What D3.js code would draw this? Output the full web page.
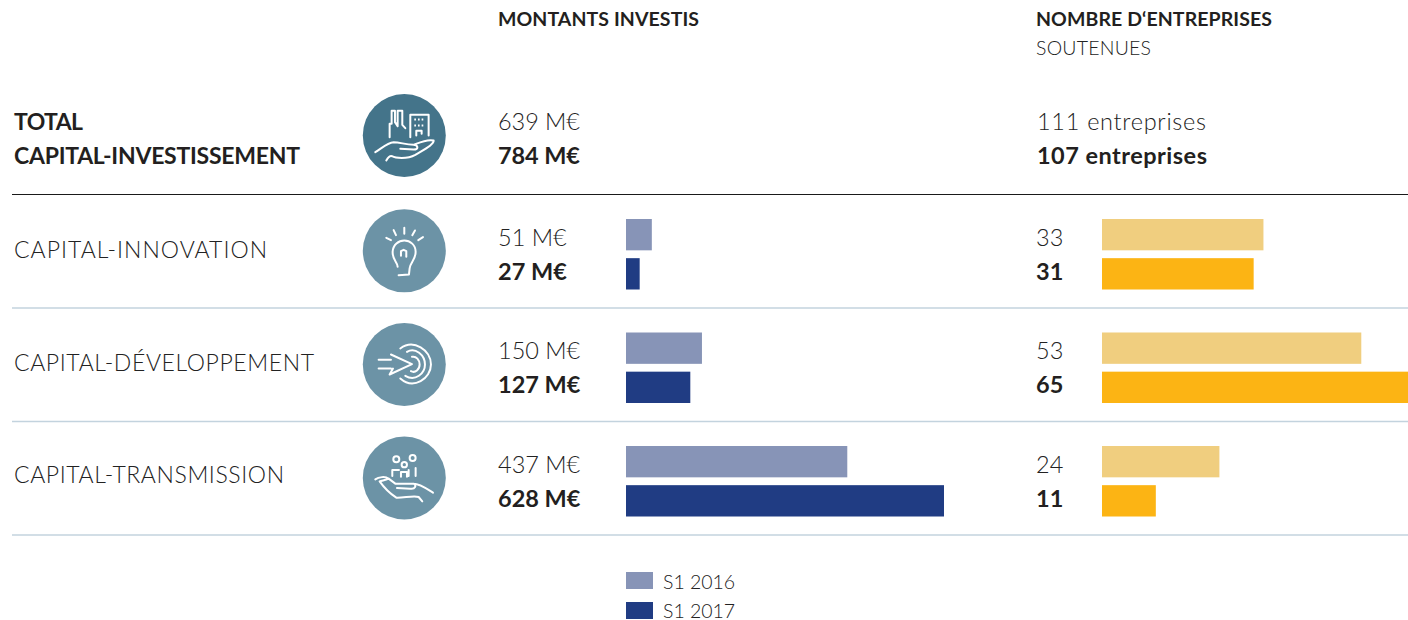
<!DOCTYPE html>
<html>
<head>
<meta charset="utf-8">
<script src="https://cdnjs.cloudflare.com/ajax/libs/d3/7.8.5/d3.min.js"></script>
<style>
  html, body { margin: 0; padding: 0; background: #fff; overflow: hidden; }
  text { font-family: "Lato", sans-serif; fill: #222; font-weight: 300; }
  .bold { font-weight: 700; fill: #231f20; }
  .icon path { fill: none; stroke: #fff; stroke-width: 6; stroke-linecap: round; stroke-linejoin: round; }
  .icon circle { fill: none; stroke: #fff; stroke-width: 6; }
</style>
</head>
<body>
<div id="chart"></div>
<script>
var categories = ["CAPITAL-INNOVATION", "CAPITAL-DÉVELOPPEMENT", "CAPITAL-TRANSMISSION"];
var seriesNames = ["S1 2016", "S1 2017"];
var montants2016 = [51, 150, 437];
var montants2017 = [27, 127, 628];
var entreprises2016 = [33, 53, 24];
var entreprises2017 = [31, 65, 11];
var totalMontants = [639, 784];
var totalEntreprises = [111, 107];

var width = 1408, height = 620;

var svg = d3.select("#chart")
    .append("svg")
    .attr("width", width)
    .attr("height", height)
    .style("display", "block");

// rows of the table, one band per category
var rowY = d3.scaleBand()
    .domain(categories)
    .range([194.5, 535]);

var seriesY = d3.scaleBand()
    .domain(seriesNames)
    .range([24.5, 95])
    .paddingInner(0.2)
    .paddingOuter(0);

var xMontants = d3.scaleLinear().domain([0, 628]).range([626, 944]);
var xEntreprises = d3.scaleLinear().domain([0, 65]).range([1102, 1420]);

var lightBlue = "#8794b7", darkBlue = "#203c83";
var lightYellow = "#f0ce7f", darkYellow = "#fcb414";

// the original font is wider than Lato, so long labels get stretched to their width
function label(x, y, size, txt, bold, len) {
    var t = svg.append("text")
        .attr("x", x)
        .attr("y", y)
        .attr("font-size", size)
        .attr("class", bold ? "bold" : null)
        .text(txt);
    if (len) t.attr("textLength", len);
    return t;
}

// headers
label(498, 26, 19.5, "MONTANTS INVESTIS", true, 201);
label(1036, 26, 19.5, "NOMBRE D‘ENTREPRISES", true, 236);
label(1036, 55, 19.5, "SOUTENUES", false, 115);

// total row
label(14, 130, 23, "TOTAL", true, 69);
label(14, 164, 23, "CAPITAL-INVESTISSEMENT", true, 286);
label(498, 130, 23.5, totalMontants[0] + " M€", false, 82);
label(498, 164, 23.5, totalMontants[1] + " M€", true, 82);
label(1037, 130, 23.5, totalEntreprises[0] + " entreprises", false, 169);
label(1037, 164, 23.5, totalEntreprises[1] + " entreprises", true, 170);

// separators
svg.append("line")
    .attr("x1", 12).attr("x2", 1408)
    .attr("y1", 194.5).attr("y2", 194.5)
    .attr("stroke", "#1a1a1a")
    .attr("stroke-width", 1.2);

var labelWidths = [253, 300, 270];

categories.forEach(function(c, i) {
    var top = rowY(c);
    // text baselines in the reference sit a little off the even row step
    var shift = i == 1 ? -1 : 0;
    label(14, top + 63.5 - i, 23, c, false, labelWidths[i]);

    label(498, top + 51.5 + shift, 23.5, montants2016[i] + " M€", false);
    label(498, top + 85.5 + shift, 23.5, montants2017[i] + " M€", true);
    label(1036, top + 51.5 + shift, 23.5, entreprises2016[i], false);
    label(1036, top + 85.5 + shift, 23.5, entreprises2017[i], true);

    var rows = svg.append("g").attr("transform", "translate(0," + top + ")");

    rows.append("rect")
        .attr("x", xMontants(0))
        .attr("y", seriesY(seriesNames[0]))
        .attr("width", xMontants(montants2016[i]) - xMontants(0))
        .attr("height", seriesY.bandwidth())
        .attr("fill", lightBlue);
    rows.append("rect")
        .attr("x", xMontants(0))
        .attr("y", seriesY(seriesNames[1]))
        .attr("width", xMontants(montants2017[i]) - xMontants(0))
        .attr("height", seriesY.bandwidth())
        .attr("fill", darkBlue);
    rows.append("rect")
        .attr("x", xEntreprises(0))
        .attr("y", seriesY(seriesNames[0]))
        .attr("width", xEntreprises(entreprises2016[i]) - xEntreprises(0))
        .attr("height", seriesY.bandwidth())
        .attr("fill", lightYellow);
    rows.append("rect")
        .attr("x", xEntreprises(0))
        .attr("y", seriesY(seriesNames[1]))
        .attr("width", xEntreprises(entreprises2017[i]) - xEntreprises(0))
        .attr("height", seriesY.bandwidth())
        .attr("fill", darkYellow);

    svg.append("line")
        .attr("x1", 12).attr("x2", 1408)
        .attr("y1", top + rowY.step()).attr("y2", top + rowY.step())
        .attr("stroke", "#c3d3de")
        .attr("stroke-width", 1.5);
});

// icons, drawn at 3x around the centre of the circle
var handA = "M75,200 C95,188 110,172 130,170 C150,170 165,178 190,178 C205,180 205,192 190,192 L150,190 M190,178 C210,170 230,160 250,165 C252,178 215,195 195,208 C170,222 135,218 125,212 C118,210 112,218 108,225";
var handB = "M75,492 C85,485 105,482 115,490 L135,505 L190,505 C200,510 195,522 180,520 L140,518 M115,490 C105,495 95,495 88,498 C100,515 120,535 138,547 C160,548 190,540 205,545 L216,558 M190,505 C210,505 232,522 248,532";

function icon(cx, cy, color, draw) {
    var g = svg.append("g").attr("transform", "translate(" + cx + "," + cy + ")");
    g.append("circle").attr("r", 41.5).attr("fill", color);
    var inner = g.append("g").attr("class", "icon").attr("transform", "scale(" + 1 / 3 + ")");
    draw(inner);
}

icon(404.3, 135.5, "#44748a", function(g) {
    var p = g.append("g").attr("transform", "translate(-162,-150)");
    p.append("path").attr("d", handA);
    p.append("path").attr("d", "M118,155 L118,115 L124,115 L124,76 L134,76 L134,110 L142,122 L142,76 L156,76 L156,118 L165,128");
    p.append("path").attr("d", "M180,155 L180,88 L235,88 L235,150 M198,150 L198,136 L214,136 L214,145");
    p.append("path").attr("d", "M192,102 H224 M192,120 H224").attr("stroke-dasharray", "5 6").style("stroke-linecap", "butt");
});

icon(404.3, 250.8, "#6c93a6", function(g) {
    var p = g.append("g").attr("transform", "translate(-162,-497)");
    p.append("path").attr("d", "M142,545 C142,530 126,525 127,500 C128,478 145,466 162,466 C180,466 196,480 196,500 C196,525 180,530 178,550 L176,568 L145,570");
    p.append("path").attr("d", "M152,512 L152,498 L160,494 L168,498 L168,515");
    p.append("path").attr("d", "M108,458 L122,465 M130,435 L137,450 M162,428 L162,446 M194,436 L186,450 M218,456 L204,465");
});

icon(404.3, 364.5, "#6c93a6", function(g) {
    var p = g.append("g").attr("transform", "translate(-162,-148)");
    p.append("path").attr("d", "M85,134 H122 M85,160 H122 M122,118 L185,147 L118,178 L128,160");
    p.append("path").attr("d", "M150,100 C190,70 242,105 242,148 C242,190 190,225 150,190");
    p.append("path").attr("d", "M170,110 C195,95 224,120 224,148 C224,175 195,200 165,182");
    p.append("path").attr("d", "M185,125 C198,122 208,135 208,148 C208,162 195,175 182,168");
});

icon(404.3, 478, "#6c93a6", function(g) {
    var p = g.append("g").attr("transform", "translate(-162,-488)");
    p.append("path").attr("d", handB);
    p.append("path").attr("d", "M126,482 V464 H146 M175,482 V464 M152,484 V470 L170,470 V484 M196,482 V458");
    p.append("circle").attr("cx", 138).attr("cy", 432).attr("r", 9);
    p.append("circle").attr("cx", 162).attr("cy", 448).attr("r", 8);
    p.append("circle").attr("cx", 187).attr("cy", 428).attr("r", 9);
});

// legend
[lightBlue, darkBlue].forEach(function(color, i) {
    svg.append("rect")
        .attr("x", 626)
        .attr("y", 572 + i * 30)
        .attr("width", 27)
        .attr("height", 17)
        .attr("fill", color);
    label(663, 589 + i * 28.5, 19.5, seriesNames[i], false, 72);
});
</script>
</body>
</html>
